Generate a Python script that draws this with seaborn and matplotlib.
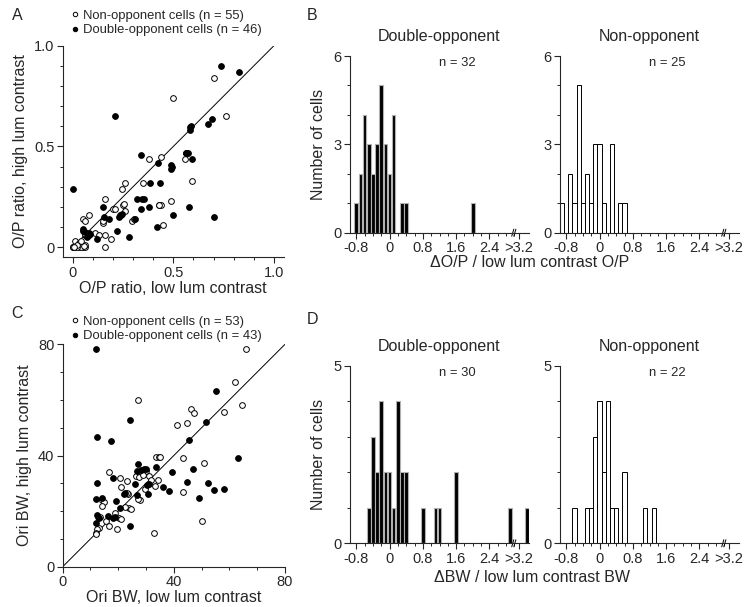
import numpy as np
import pandas as pd
import matplotlib
matplotlib.use("Agg")
import matplotlib.pyplot as plt
import seaborn as sns
from matplotlib.lines import Line2D
from matplotlib.ticker import MultipleLocator, FixedLocator

# ---------------- data ----------------
# Panel A: O/P ratio (low lum contrast, high lum contrast)
A_no_x = [0.701, 0.500, 0.761, 0.381, 0.441, 0.559, 0.351, 0.591, 0.262, 0.243,
          0.162, 0.252, 0.201, 0.211, 0.262, 0.431, 0.441, 0.490, 0.297, 0.152,
          0.450, 0.079, 0.053, 0.063, 0.109, 0.132, 0.162, 0.191, 0.162, 0.063,
          0.013, 0.033, 0.043, 0.000, 0.013, 0.033, 0.053, 0.063, 0.043, 0.003,
          0.023, 0.060, 0.055, 0.066, 0.150, 0.305, 0.235, 0.020, 0.040, 0.070,
          0.060, 0.428, 0.255, 0.000, 0.005]
A_no_y = [0.839, 0.740, 0.650, 0.439, 0.449, 0.439, 0.318, 0.330, 0.318, 0.289,
          0.239, 0.209, 0.189, 0.189, 0.179, 0.209, 0.209, 0.229, 0.129, 0.119,
          0.109, 0.159, 0.139, 0.129, 0.070, 0.060, 0.060, 0.040, 0.000, 0.060,
          0.030, 0.020, 0.010, 0.000, 0.000, 0.000, 0.000, 0.000, 0.000, 0.000,
          0.000, 0.010, 0.005, 0.060, 0.130, 0.140, 0.160, 0.010, 0.030, 0.055,
          0.065, 0.211, 0.215, 0.000, 0.003]
A_do_x = [0.739, 0.828, 0.211, 0.690, 0.670, 0.589, 0.581, 0.561, 0.573, 0.591,
          0.342, 0.422, 0.490, 0.490, 0.384, 0.003, 0.320, 0.353, 0.381, 0.342,
          0.579, 0.152, 0.231, 0.238, 0.183, 0.312, 0.500, 0.701, 0.421, 0.053,
          0.051, 0.083, 0.079, 0.073, 0.122, 0.221, 0.282, 0.585, 0.565, 0.493,
          0.155, 0.245, 0.060, 0.086, 0.433, 0.345]
A_do_y = [0.900, 0.871, 0.650, 0.638, 0.609, 0.600, 0.580, 0.469, 0.469, 0.439,
          0.459, 0.420, 0.410, 0.390, 0.320, 0.289, 0.239, 0.239, 0.199, 0.189,
          0.199, 0.199, 0.149, 0.159, 0.139, 0.139, 0.159, 0.149, 0.100, 0.090,
          0.080, 0.070, 0.060, 0.050, 0.040, 0.080, 0.050, 0.595, 0.470, 0.400,
          0.150, 0.165, 0.075, 0.065, 0.320, 0.239]

# Panel C: orientation bandwidth (low lum contrast, high lum contrast)
C_no_x = [65.8, 62.1, 64.4, 58.0, 27.1, 46.3, 47.1, 44.6, 41.1, 43.2,
          50.8, 43.3, 50.1, 32.7, 16.5, 20.6, 23.3, 21.1, 26.5, 28.3,
          30.0, 27.6, 31.0, 31.7, 33.6, 34.5, 34.4, 33.1, 29.7, 27.7,
          23.5, 23.0, 23.9, 24.6, 22.5, 14.0, 14.9, 14.2, 18.7, 20.1,
          12.7, 13.4, 15.7, 16.7, 13.1, 12.4, 12.0, 12.1, 19.7, 35.0,
          27.0, 21.0, 29.0]
C_no_y = [78.2, 66.6, 58.2, 55.5, 60.1, 56.7, 55.4, 51.7, 51.0, 39.0,
          37.3, 26.9, 16.4, 12.0, 33.9, 32.0, 30.8, 28.8, 32.7, 34.2,
          34.4, 32.3, 32.7, 31.1, 39.5, 39.5, 31.3, 29.1, 27.9, 23.9,
          26.0, 26.6, 21.0, 20.8, 21.5, 24.1, 23.4, 21.8, 19.2, 17.5,
          18.0, 17.9, 16.4, 14.5, 14.0, 13.4, 12.1, 11.9, 13.7, 39.3,
          24.5, 17.0, 33.0]
C_do_x = [12.0, 24.2, 12.2, 17.5, 55.2, 51.6, 45.3, 63.1, 12.2, 27.0,
          29.3, 26.7, 33.6, 18.0, 39.3, 46.8, 26.0, 30.5, 30.8, 36.0,
          38.3, 44.6, 52.3, 54.6, 58.2, 48.9, 12.0, 14.3, 19.2, 22.4,
          26.9, 20.6, 12.5, 16.2, 18.0, 12.0, 24.2, 30.0, 31.0, 13.0,
          22.0, 19.0, 28.0]
C_do_y = [78.2, 52.8, 46.5, 45.1, 63.1, 51.9, 45.6, 39.1, 30.1, 36.9,
          35.3, 34.5, 35.9, 32.0, 33.9, 35.3, 29.9, 29.4, 26.1, 28.8,
          27.2, 30.6, 30.1, 27.5, 27.8, 24.8, 24.2, 24.7, 23.5, 26.4,
          25.8, 21.0, 18.6, 18.2, 17.5, 15.6, 14.6, 35.0, 29.8, 17.5,
          26.0, 18.0, 34.8]

# Panel B histograms: change of O/P (bin centres, counts)
B_do_bins = [-0.8, -0.7, -0.6, -0.5, -0.4, -0.3, -0.2, -0.1, 0.0, 0.1, 0.3, 0.4, 2.0]
B_do_counts = [1, 2, 4, 3, 2, 3, 5, 3, 2, 4, 1, 1, 1]
B_no_bins = [-0.9, -0.7, -0.6, -0.5, -0.4, -0.3, -0.2, -0.1, 0.0, 0.1, 0.3, 0.5, 0.6]
B_no_counts = [1, 2, 1, 5, 1, 2, 1, 3, 3, 1, 3, 1, 1]

# Panel D histograms: change of BW (bin centres, counts; 3.3 = ">3.2")
D_do_bins = [-0.5, -0.4, -0.3, -0.2, -0.1, 0.0, 0.1, 0.2, 0.3, 0.4, 0.8, 1.1, 1.2, 1.6, 2.9, 3.3]
D_do_counts = [1, 3, 2, 4, 2, 2, 1, 4, 2, 2, 1, 1, 1, 2, 1, 1]
D_no_bins = [-0.6, -0.3, -0.2, -0.1, 0.0, 0.1, 0.2, 0.3, 0.4, 0.6, 1.1, 1.3]
D_no_counts = [1, 1, 1, 3, 4, 2, 4, 1, 1, 2, 1, 1]

hist_ticks = [-0.8, 0, 0.8, 1.6, 2.4, 3.1]
hist_ticklabels = ["-0.8", "0", "0.8", "1.6", "2.4", ">3.2"]

# ---------------- style ----------------
sns.set_style("ticks")
plt.rcParams["font.family"] = ["Liberation Sans", "DejaVu Sans"]
plt.rcParams["axes.linewidth"] = 0.8
plt.rcParams["xtick.major.width"] = 0.8
plt.rcParams["ytick.major.width"] = 0.8
plt.rcParams["xtick.minor.width"] = 0.7
plt.rcParams["ytick.minor.width"] = 0.7

W, H = 748, 607
fig = plt.figure(figsize=(W / 100, H / 100), dpi=100)


def px_axes(left, top, right, bottom):
    return fig.add_axes([left / W, 1 - bottom / H, (right - left) / W, (bottom - top) / H])


LAB = 11.5
TICK = 10.5

# ---------------- scatter panels ----------------
def scatter_panel(ax, nx, ny, dx, dy, lim, major, minor, ticklabels, xlabel, ylabel):
    sns.scatterplot(x=nx, y=ny, ax=ax, marker="o", s=17, color="white",
                    edgecolor="black", linewidth=0.7, zorder=3, clip_on=False)
    sns.scatterplot(x=dx, y=dy, ax=ax, marker="o", s=17, color="black",
                    edgecolor="black", linewidth=0.7, zorder=3, clip_on=False)
    ax.plot([0, lim[1]], [0, lim[1]], color="black", lw=0.7, zorder=2)
    sns.despine(ax=ax)
    ax.set_xticks(major)
    ax.set_xticklabels(ticklabels)
    ax.set_yticks(major)
    ax.set_yticklabels(ticklabels)
    ax.xaxis.set_minor_locator(MultipleLocator(minor))
    ax.yaxis.set_minor_locator(MultipleLocator(minor))
    ax.tick_params(which="major", direction="out", length=4, labelsize=TICK, pad=2)
    ax.tick_params(which="minor", direction="out", length=2.5)
    ax.set_xlabel(xlabel, fontsize=LAB, labelpad=1)
    ax.set_ylabel(ylabel, fontsize=LAB, labelpad=4)


axA = px_axes(62.6, 45.7, 284, 257.3)
scatter_panel(axA, A_no_x, A_no_y, A_do_x, A_do_y, (-0.05, 1.0), [0, 0.5, 1.0], 0.1,
              ["0", "0.5", "1.0"], "O/P ratio, low lum contrast", "O/P ratio, high lum contrast")
axA.set_xlim(-0.05, 1.05)
axA.set_ylim(-0.05, 1.0)

axC = px_axes(62.7, 344.3, 285, 566.7)
scatter_panel(axC, C_no_x, C_no_y, C_do_x, C_do_y, (0, 80), [0, 40, 80], 10,
              ["0", "40", "80"], "Ori BW, low lum contrast", "Ori BW, high lum contrast")
axC.set_xlim(0, 80)
axC.set_ylim(0, 80)


def scatter_legend(ax, top_px, n_no, n_do):
    handles = [
        Line2D([], [], ls="none", marker="o", ms=3.2, mfc="white", mec="black", mew=0.7),
        Line2D([], [], ls="none", marker="o", ms=3.2, mfc="black", mec="black", mew=0.7),
    ]
    labels = [f"Non-opponent cells (n = {n_no})", f"Double-opponent cells (n = {n_do})"]
    ax.legend(handles, labels, loc="upper left", bbox_to_anchor=(71 / W, 1 - top_px / H),
              bbox_transform=fig.transFigure, frameon=False, fontsize=9.4,
              borderpad=0, borderaxespad=0, handlelength=0.6, handletextpad=0.35,
              labelspacing=0.2)


scatter_legend(axA, 9.5, 55, 46)
scatter_legend(axC, 315.5, 53, 43)

# ---------------- histogram panels ----------------
def hist_panel(ax, centres, counts, kind, ymax, title, ntext, ylabel=None):
    df = pd.DataFrame({"delta": centres, "n": counts})
    common = dict(data=df, x="delta", weights="n", binwidth=0.1, binrange=(-0.95, 3.35), ax=ax)
    if kind == "do":
        sns.histplot(**common, color="black", edgecolor="#b0b0b0", linewidth=0.8,
                     shrink=0.85, alpha=1)
    else:
        sns.histplot(**common, color="white", edgecolor="black", linewidth=0.7, alpha=1)
    sns.despine(ax=ax)
    ax.set_xlim(-0.95, 3.35)
    ax.set_ylim(0, ymax)
    ax.set_xticks(hist_ticks)
    ax.set_xticklabels(hist_ticklabels)
    ax.xaxis.set_minor_locator(FixedLocator(np.round(np.arange(-0.8, 3.01, 0.2), 2)))
    yt = [0, 3, 6] if ymax == 6 else [0, 5]
    ax.set_yticks(yt)
    ax.set_yticklabels([str(t) for t in yt])
    ax.yaxis.set_minor_locator(MultipleLocator(1))
    ax.tick_params(which="major", direction="out", length=4, labelsize=TICK, pad=2)
    ax.tick_params(which="minor", direction="out", length=2.5)
    ax.set_xlabel("")
    if ylabel:
        ax.set_ylabel(ylabel, fontsize=LAB, labelpad=5)
    else:
        ax.set_ylabel("")
    ax.text(0.5, 1.11, title, transform=ax.transAxes, ha="center", va="center", fontsize=LAB)
    ax.text(0.6, 0.96, ntext, transform=ax.transAxes, ha="center", va="center", fontsize=9.4)
    # axis break marks
    tr = ax.get_xaxis_transform()
    for xb in (2.96, 3.01):
        ax.plot([xb - 0.025, xb + 0.025], [-0.02, 0.02], transform=tr, color="black",
                lw=0.7, clip_on=False)


axB1 = px_axes(350, 56, 529, 232.7)
hist_panel(axB1, B_do_bins, B_do_counts, "do", 6, "Double-opponent", "n = 32", "Number of cells")
axB2 = px_axes(560, 56, 739, 232.7)
hist_panel(axB2, B_no_bins, B_no_counts, "no", 6, "Non-opponent", "n = 25")

axD1 = px_axes(350, 365.7, 529, 543.3)
hist_panel(axD1, D_do_bins, D_do_counts, "do", 5, "Double-opponent", "n = 30", "Number of cells")
axD2 = px_axes(560, 365.7, 739, 543.3)
hist_panel(axD2, D_no_bins, D_no_counts, "no", 5, "Non-opponent", "n = 22")

fig.text(530 / W, 1 - 263 / H, "\u0394O/P / low lum contrast O/P", ha="center", va="center", fontsize=LAB)
fig.text(532 / W, 1 - 577 / H, "\u0394BW / low lum contrast BW", ha="center", va="center", fontsize=LAB)

# panel letters
for letter, (x, y) in {"A": (17, 15), "B": (312, 16), "C": (17, 313), "D": (312, 320)}.items():
    fig.text(x / W, 1 - y / H, letter, ha="center", va="center", fontsize=11.5)

fig.savefig("out.png", dpi=100)
